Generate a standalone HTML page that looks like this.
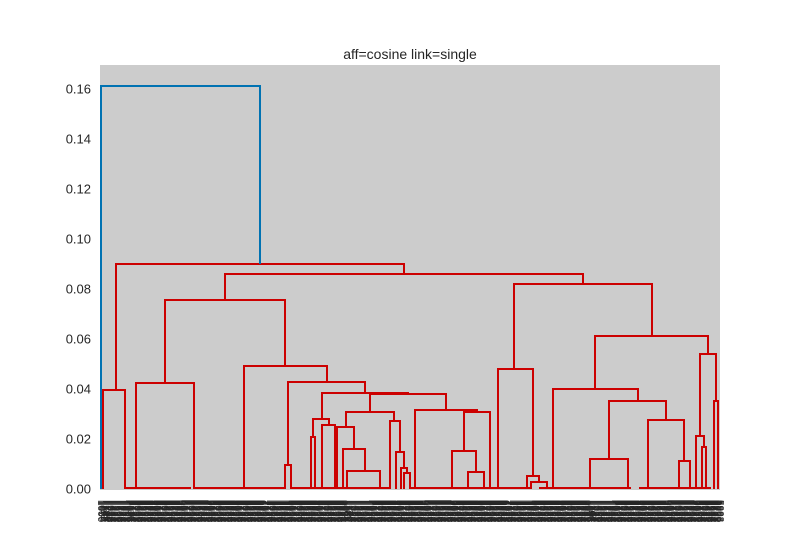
<!DOCTYPE html>
<html><head><meta charset="utf-8"><style>
body{margin:0;background:#fff;}
svg text{font-family:"Liberation Sans",sans-serif;}
</style></head><body>
<svg id="chart" width="800" height="550">
<rect x="100" y="65" width="620" height="425" fill="#cccccc"/>
<text x="410" y="59" font-size="14" text-anchor="middle" fill="#262626">aff=cosine link=single</text>
<g id="yaxis"></g>
<g id="links"></g>
<g id="xlabels"></g>
</svg>
<script>
const yTicks=[0,0.02,0.04,0.06,0.08,0.10,0.12,0.14,0.16];
const linkX1=[1,16,3,125,65,36,144,188,185,222,213,211,222,270,246,237,243,247,290,296,301,304,315,364,352,368,414,398,427,431,495,453,509,490,548,579,600,596,602,614];
const linkX2=[160,304,25,483,185,94,227,265,191,308,229,215,235,346,294,254,265,280,300,304,307,310,377,390,376,384,552,433,439,447,608,538,566,528,584,590,616,604,606,618];
const linkH=[0.1612,0.09,0.0396,0.086,0.0756,0.0424,0.0492,0.0428,0.0096,0.0384,0.028,0.0208,0.0256,0.038,0.0308,0.0248,0.016,0.0072,0.0272,0.0148,0.0084,0.0064,0.0316,0.0308,0.0152,0.0068,0.082,0.048,0.0052,0.0028,0.0612,0.04,0.0352,0.012,0.0276,0.0112,0.054,0.0212,0.0168,0.0352];
const linkH1=[0,0.0396,0,0.0756,0.0424,0,0,0.0096,0,0.028,0.0208,0,0,0.0308,0.0248,0,0,0,0,0,0,0,0,0.0152,0,0,0.048,0,0,0,0.04,0,0.012,0,0,0,0.0212,0,0,0];
const linkH2=[0.09,0.086,0,0.082,0.0492,0,0.0428,0.0384,0,0.038,0.0256,0,0,0.0316,0.0272,0.016,0.0072,0,0.0148,0.0084,0.0064,0,0.0308,0,0.0068,0,0.0612,0.0052,0.0028,0,0.054,0.0352,0.0276,0,0.0112,0,0.0352,0.0168,0,0];
const linkColor=["blue","red","red","red","red","red","red","red","red","red","red","red","red","red","red","red","red","red","red","red","red","red","red","red","red","red","red","red","red","red","red","red","red","red","red","red","red","red","red","red"];
const baseX1=[26,95,192,310,440,540];
const baseX2=[90,185,290,430,530,610];
const baseH=[0.0004,0.0004,0.0004,0.0004,0.0004,0.0004];
const xScale=x=>100+x;
const yScale=v=>489-v*2500;
const NS="http://www.w3.org/2000/svg";
const ya=document.getElementById('yaxis');
yTicks.forEach(v=>{
  const t=document.createElementNS(NS,'text');
  
  
  t.setAttribute('x',91);t.setAttribute('y',yScale(v)+4.5);
  t.setAttribute('text-anchor','end');t.setAttribute('font-size','13');t.setAttribute('fill','#262626');
  t.textContent=v.toFixed(2);ya.appendChild(t);
});
const lg=document.getElementById('links');
function drawLink(x1,x2,h,h1,h2,c,name){
  const p=document.createElementNS(NS,'path');
  
  
  p.setAttribute('d',`M${xScale(x1)},${yScale(h1)}V${yScale(h)}H${xScale(x2)}V${yScale(h2)}`);
  p.setAttribute('fill','none');p.setAttribute('stroke',c==='blue'?'#0072b2':'#cc0000');p.setAttribute('stroke-width','2');
  lg.appendChild(p);
}
for(let i=0;i<baseX1.length;i++)drawLink(baseX1[i],baseX2[i],baseH[i],0,0,'red','baseline-link');
for(let i=linkX1.length-1;i>=0;i--)drawLink(linkX1[i],linkX2[i],linkH[i],linkH1[i],linkH2[i],linkColor[i],'dendrogram-link');
const xl=document.getElementById('xlabels');
for(let i=0;i<620;i++){
  const t=document.createElementNS(NS,'text');
  
  
  const x=98+i;
  t.setAttribute('transform',`translate(${x},500) rotate(90)`);
  t.setAttribute('font-size','10');t.setAttribute('fill','#262626');
  t.textContent=String(1000+(i*37)%9000);
  xl.appendChild(t);
}
</script>
</body></html>
